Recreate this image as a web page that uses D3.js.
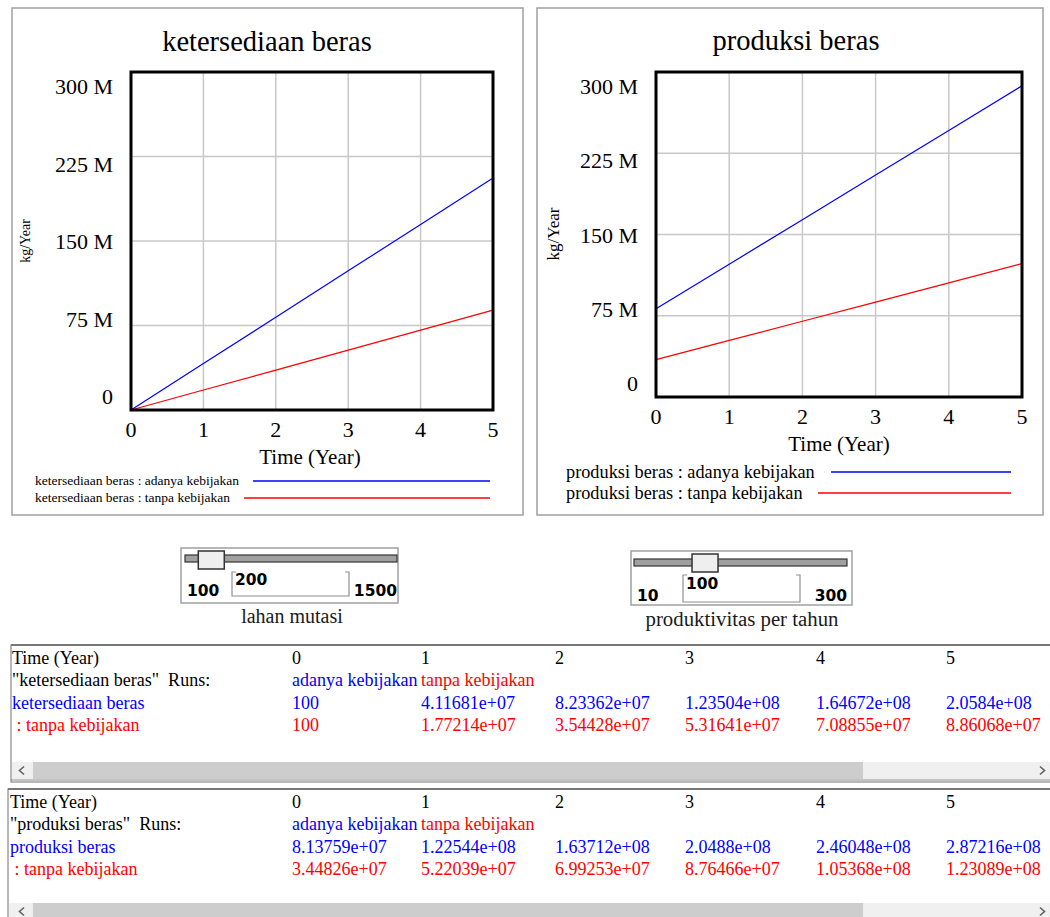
<!DOCTYPE html>
<html><head><meta charset="utf-8">
<script src="https://cdn.jsdelivr.net/npm/d3@7"></script>
<style>
body{margin:0;background:#fff;}
svg{display:block;}
text{font-family:"Liberation Serif","Times New Roman",serif;}
.pre{white-space:pre;}
</style>
</head><body>
<svg id="c" width="1050" height="917"></svg>
<script>
// ---------------- DATA ----------------
const years = [0, 1, 2, 3, 4, 5];
const ketersediaanAdanya = [100, 41168100, 82336200, 123504000, 164672000, 205840000];
const ketersediaanTanpa  = [100, 17721400, 35442800, 53164100, 70885500, 88606800];
const produksiAdanya = [81375900, 122544000, 163712000, 204880000, 246048000, 287216000];
const produksiTanpa  = [34482600, 52203900, 69925300, 87646600, 105368000, 123089000];
const yTickValues = [0, 75e6, 150e6, 225e6, 300e6];
const yTickLabels = ["0", "75 M", "150 M", "225 M", "300 M"];
const xTickValues = [0, 1, 2, 3, 4, 5];
const runNames = ["adanya kebijakan", "tanpa kebijakan"];
const chartTitles = ["ketersediaan beras", "produksi beras"];
const unitLabel = "kg/Year";
const timeLabel = "Time (Year)";
const sliderNames = ["lahan mutasi", "produktivitas per tahun"];
const sliderMin = [100, 10];
const sliderMax = [1500, 300];
const sliderValue = [200, 100];

const BLUE = "#0000ff", RED = "#ff0000";
const seriesColors = [BLUE, RED];

const svg = d3.select("#c");

// ---------------- CHARTS ----------------
const charts = [
  {title: chartTitles[0], series: [ketersediaanAdanya, ketersediaanTanpa],
   panel: {x: 12, y: 8, w: 511, h: 507},
   plot: {x0: 131, x1: 493, y0: 72, y1: 410},
   titleX: 267, titleY: 51, titleSize: 28.5, tickSize: 22,
   unitX: 25, unitY: 241, unitSize: 14, xLabelX: 310,
   legend: {size: 13.5, textX: 35, base: [485, 502], lineX0: [253, 244], lineX1: 490, lineY: [481, 498]}},
  {title: chartTitles[1], series: [produksiAdanya, produksiTanpa],
   panel: {x: 537, y: 8, w: 506, h: 507},
   plot: {x0: 656, x1: 1022, y0: 72, y1: 397},
   titleX: 796, titleY: 50, titleSize: 28.5, tickSize: 22,
   unitX: 553, unitY: 234, unitSize: 17, xLabelX: 839,
   legend: {size: 18.3, textX: 566, base: [478, 499], lineX0: [831, 818], lineX1: 1011, lineY: [472, 493]}}
];

charts.forEach(c => {
  const g = svg.append("g");
  const p = c.plot;
  g.append("rect").attr("x", c.panel.x).attr("y", c.panel.y).attr("width", c.panel.w).attr("height", c.panel.h)
    .attr("fill", "#fff").attr("stroke", "#a0a0a0").attr("stroke-width", 1.5);

  const x = d3.scaleLinear().domain([0, 5]).range([p.x0, p.x1]);
  const y = d3.scaleLinear().domain([0, 300e6]).range([p.y1, p.y0]);
  // tick labels are spread evenly inside the plot (Vensim style)
  const yLab = d3.scaleLinear().domain([0, 300e6]).range([p.y1 - 6, p.y0 + 22]);

  g.append("text").attr("x", c.titleX).attr("y", c.titleY).attr("text-anchor", "middle")
    .attr("font-size", c.titleSize).text(c.title);

  // grid
  g.selectAll(".gx").data(xTickValues.slice(1, -1)).enter().append("line")
    .attr("x1", d => x(d)).attr("x2", d => x(d)).attr("y1", p.y0).attr("y2", p.y1)
    .attr("stroke", "#c8c8c8").attr("stroke-width", 1.5);
  g.selectAll(".gy").data(yTickValues.slice(1, -1)).enter().append("line")
    .attr("x1", p.x0).attr("x2", p.x1).attr("y1", d => y(d)).attr("y2", d => y(d))
    .attr("stroke", "#c8c8c8").attr("stroke-width", 1.5);

  // series lines
  c.series.forEach((s, i) => {
    const line = d3.line().x((d, k) => x(years[k])).y(d => y(d));
    g.append("path").attr("d", line(s)).attr("fill", "none")
      .attr("stroke", seriesColors[i]).attr("stroke-width", 1.2);
  });

  // frame
  g.append("rect").attr("x", p.x0).attr("y", p.y0).attr("width", p.x1 - p.x0).attr("height", p.y1 - p.y0)
    .attr("fill", "none").attr("stroke", "#000").attr("stroke-width", 3);

  // y tick labels
  g.selectAll(".yl").data(yTickValues).enter().append("text")
    .attr("x", p.x0 - 18).attr("y", d => yLab(d)).attr("text-anchor", "end")
    .attr("font-size", c.tickSize).text((d, i) => yTickLabels[i]);
  // x tick labels
  g.selectAll(".xl").data(xTickValues).enter().append("text")
    .attr("x", d => x(d)).attr("y", p.y1 + 27).attr("text-anchor", "middle")
    .attr("font-size", c.tickSize).text(d => d);
  g.append("text").attr("x", c.xLabelX).attr("y", p.y1 + 54).attr("text-anchor", "middle")
    .attr("font-size", 21).text(timeLabel);
  g.append("text").attr("transform", `translate(${c.unitX + c.unitSize * 0.35},${c.unitY}) rotate(-90)`)
    .attr("text-anchor", "middle").attr("font-size", c.unitSize).text(unitLabel);

  // legend
  const L = c.legend;
  runNames.forEach((r, i) => {
    g.append("text").attr("x", L.textX).attr("y", L.base[i]).attr("font-size", L.size)
      .text(c.title + " : " + r);
    g.append("line").attr("x1", L.lineX0[i]).attr("x2", L.lineX1).attr("y1", L.lineY[i]).attr("y2", L.lineY[i])
      .attr("stroke", seriesColors[i]).attr("stroke-width", 1.5);
  });
});

// ---------------- SLIDERS ----------------
const sliders = [
  {box: {x: 181, y: 548, w: 217, h: 55}, track: {x0: 185, x1: 397, y: 555, h: 7}, thumbY: 551, thumbH: 18,
   minX: 187, minY: 596, maxY: 596, input: {x0: 232, x1: 349, y0: 572, y1: 596}, valX: 235, valY: 585,
   labelX: 292, labelY: 623},
  {box: {x: 631, y: 551, w: 221, h: 54}, track: {x0: 634, x1: 847, y: 559, h: 7}, thumbY: 554, thumbH: 18,
   minX: 637, minY: 601, maxY: 601, input: {x0: 683, x1: 800, y0: 575, y1: 602}, valX: 686, valY: 589,
   labelX: 742, labelY: 626}
];
sliders.forEach((s, i) => {
  const g = svg.append("g");
  g.append("rect").attr("x", s.box.x).attr("y", s.box.y).attr("width", s.box.w).attr("height", s.box.h)
    .attr("fill", "#fff").attr("stroke", "#a0a0a0").attr("stroke-width", 1.5);
  g.append("rect").attr("x", s.track.x0).attr("y", s.track.y).attr("width", s.track.x1 - s.track.x0)
    .attr("height", s.track.h).attr("fill", "#a0a0a0").attr("stroke", "#333").attr("stroke-width", 1.2);
  const tw = 26;
  const sx = d3.scaleLinear().domain([sliderMin[i], sliderMax[i]]).range([s.track.x0 + tw / 2, s.track.x1 - tw / 2]);
  g.append("rect").attr("x", sx(sliderValue[i]) - tw / 2).attr("y", s.thumbY).attr("width", tw).attr("height", s.thumbH)
    .attr("fill", "#efefef").attr("stroke", "#333").attr("stroke-width", 1.5);
  const bold = {"font-family": "'DejaVu Sans', sans-serif", "font-weight": "bold", "font-size": "15.5px"};
  const t1 = g.append("text").attr("x", s.minX).attr("y", s.minY).text(sliderMin[i]);
  const t2 = g.append("text").attr("x", s.track.x1).attr("y", s.maxY).attr("text-anchor", "end").text(sliderMax[i]);
  const t3 = g.append("text").attr("x", s.valX).attr("y", s.valY).text(sliderValue[i]);
  [t1, t2, t3].forEach(t => Object.entries(bold).forEach(([k, v]) => t.style(k, v)));
  const I = s.input;
  g.append("path").attr("d", `M${I.x0 + 4},${I.y0}H${I.x0}V${I.y1}H${I.x1}V${I.y0}H${I.x1 - 4}`)
    .attr("fill", "none").attr("stroke", "#909090").attr("stroke-width", 1.2);
  g.append("text").attr("x", s.labelX).attr("y", s.labelY).attr("text-anchor", "middle")
    .attr("font-size", i === 0 ? 20 : 20.8).attr("fill", "#1a1a1a").text(sliderNames[i]);
});

// ---------------- TABLES ----------------
function vfmt(v) {
  if (Math.abs(v) < 1e6) return String(+v.toPrecision(6));
  let [m, e] = v.toExponential(5).split("e");
  if (m.includes(".")) m = m.replace(/0+$/, "").replace(/\.$/, "");
  let d = e.slice(1); if (d.length < 2) d = "0" + d;
  return m + "e" + e[0] + d;
}
const colX = [292, 421, 555, 685, 816, 946];
const tables = [
  {name: chartTitles[0], series: [ketersediaanAdanya, ketersediaanTanpa], x: 11, y: 645, bottom: 782, textX: 12,
   base: [664, 686, 708.5, 731], scrollY: 762},
  {name: chartTitles[1], series: [produksiAdanya, produksiTanpa], x: 8, y: 789, bottom: 930, textX: 10,
   base: [808, 830, 853, 875], scrollY: 903}
];
tables.forEach(t => {
  const g = svg.append("g");
  g.append("rect").attr("x", t.x).attr("y", t.y).attr("width", 1060 - t.x).attr("height", t.bottom - t.y)
    .attr("fill", "#fff").attr("stroke", "#888").attr("stroke-width", 1.2);
  g.append("line").attr("x1", t.x).attr("x2", 1050).attr("y1", t.y).attr("y2", t.y)
    .attr("stroke", "#777").attr("stroke-width", 2);
  const txt = (x, y, s, col) => g.append("text").attr("class", "pre").attr("x", x).attr("y", y)
    .attr("font-size", 18).attr("fill", col).text(s);
  txt(t.textX, t.base[0], timeLabel, "#000");
  years.forEach((yr, k) => txt(colX[k], t.base[0], yr, "#000"));
  txt(t.textX, t.base[1], "\"" + t.name + "\"  Runs:", "#000");
  runNames.forEach((r, k) => txt(colX[k], t.base[1], r, seriesColors[k]));
  txt(t.textX, t.base[2], t.name, BLUE);
  txt(t.textX, t.base[3], " : " + runNames[1], RED);
  t.series.forEach((s, si) => s.forEach((v, k) => txt(colX[k], t.base[2 + si], vfmt(v), seriesColors[si])));
  // scrollbar
  const sy = t.scrollY, sh = 17;
  g.append("rect").attr("x", t.x + 1).attr("y", sy).attr("width", 1050 - t.x).attr("height", sh).attr("fill", "#f0f0f0");
  g.append("rect").attr("x", 33).attr("y", sy).attr("width", 830).attr("height", sh).attr("fill", "#cdcdcd");
  g.append("path").attr("d", `M24,${sy + 4.5}L19.5,${sy + 8.5}L24,${sy + 12.5}`).attr("fill", "none")
    .attr("stroke", "#606060").attr("stroke-width", 1.6);
  g.append("path").attr("d", `M1040,${sy + 4.5}L1044.5,${sy + 8.5}L1040,${sy + 12.5}`).attr("fill", "none")
    .attr("stroke", "#606060").attr("stroke-width", 1.6);
  g.append("line").attr("x1", t.x).attr("x2", 1050).attr("y1", sy + sh + 1).attr("y2", sy + sh + 1)
    .attr("stroke", "#888").attr("stroke-width", 1.2);
});
</script>
</body></html>
